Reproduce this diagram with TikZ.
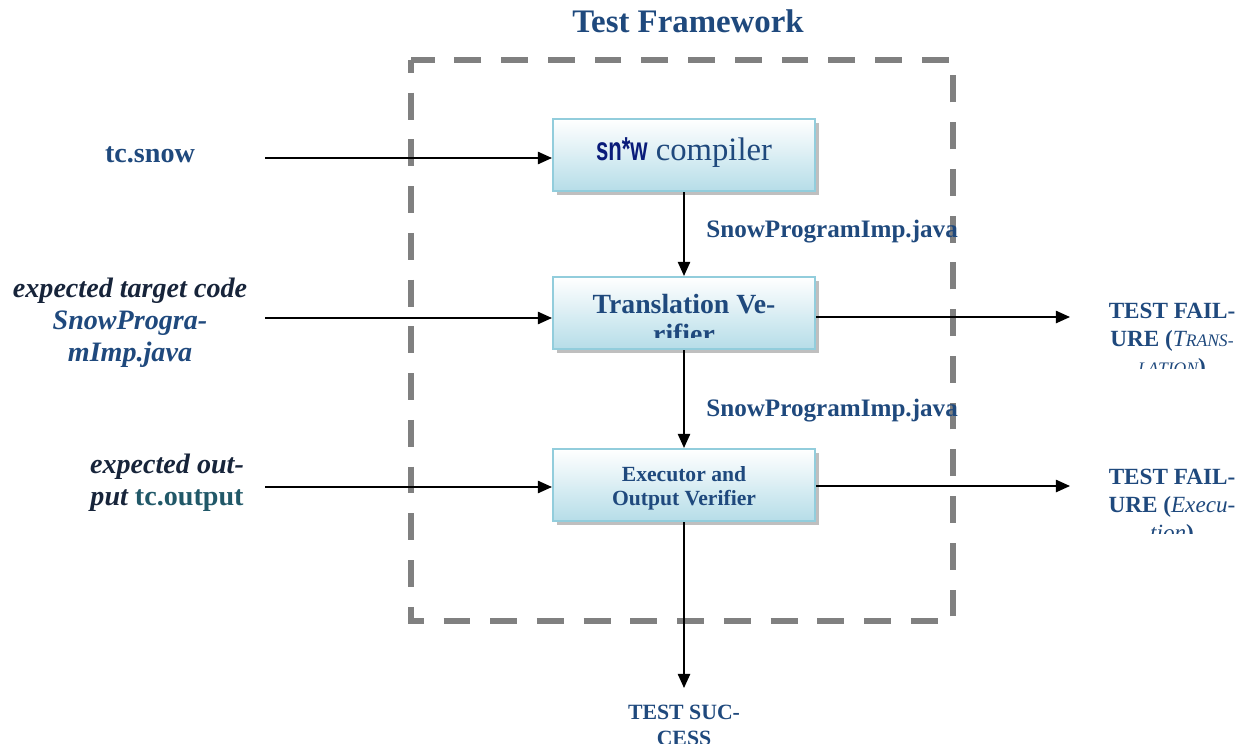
\documentclass[tikz,border=0pt]{standalone}
\usepackage{fontspec}
\setmainfont{Liberation Serif}
\setsansfont{Liberation Sans}
\usepackage{graphicx}
\usetikzlibrary{arrows.meta,shadows}

\definecolor{headblue}{HTML}{1F497D}
\definecolor{darknavy}{HTML}{17243A}
\definecolor{tealtext}{HTML}{215868}
\definecolor{boxedge}{HTML}{92CDDC}
\definecolor{boxfill}{HTML}{B6DDE8}
\definecolor{logoblue}{HTML}{0A1C7A}
\definecolor{framegray}{HTML}{808080}

\tikzset{
  stage/.style={draw=boxedge, line width=1.2pt, top color=white, bottom color=boxfill,
    minimum width=5.24cm, minimum height=1.44cm, inner sep=0pt,
    general shadow={fill=gray!50, shadow xshift=0.08cm, shadow yshift=-0.08cm}},
  flow/.style={line width=0.9pt, -{Triangle[length=8pt,width=7pt]}},
  frame/.style={draw=framegray, line width=2.9pt, dash pattern=on 15.3pt off 11.3pt, dash phase=8pt},
  lbl/.style={inner sep=0pt, text=headblue, font=\bfseries},
}

\begin{document}
\begin{tikzpicture}[x=0.02cm, y=-0.02cm]
\useasboundingbox (0,0) rectangle (1248,744);

% title and the dashed framework border
\node[lbl, font={\fontsize{18.7}{22}\selectfont\bfseries}] (title) at (688,21) {Test Framework};
\draw[frame] (411,60) rectangle (953,621);

% the three processing stages
\node[stage] (comp) at (684,155) {};
\node[stage] (trans) at (684,313) {};
\node[stage] (exec) at (684,485) {};

\node[lbl, anchor=base, font={\fontsize{18.6}{20}\selectfont}] (comptext) at (684,160)
  {{\color{logoblue}\scalebox{0.7}[1.05]{\fontsize{18}{18}\selectfont\sffamily\bfseries sn*w}}~compiler};

\begin{scope}
  \clip (555,279) rectangle (813,337);
  \node[lbl, anchor=north, align=center, font={\fontsize{15.8}{17}\selectfont\bfseries}] (transtext) at (684,294)
    {Translation Ve-\\rifier};
\end{scope}

\node[lbl, align=center, font={\fontsize{12.3}{13.6}\selectfont\bfseries}] (exectext) at (684,488)
  {Executor and\\Output Verifier};

\node[lbl, anchor=west, font={\fontsize{14.3}{16}\selectfont\bfseries}] (javaA) at (706,232) {SnowProgramImp.java};
\node[lbl, anchor=west, font={\fontsize{14.3}{16}\selectfont\bfseries}] (javaB) at (706,411) {SnowProgramImp.java};

% inputs on the left
\node[lbl, font={\fontsize{16}{18}\selectfont\bfseries}] (snow) at (150,155) {tc.snow};
\node[lbl, align=center, font={\fontsize{16}{18.2}\selectfont\bfseries\itshape}] (target) at (130,323)
  {{\color{darknavy}expected target code}\\SnowProgra-\\mImp.java};
\node[lbl, align=center, font={\fontsize{16}{18.2}\selectfont\bfseries}] (expout) at (167,483)
  {{\color{darknavy}\itshape expected out-}\\{\color{darknavy}\itshape put} {\color{tealtext}tc.output}};

\coordinate (snowend) at (265,158);
\coordinate (targetend) at (265,318);
\coordinate (expoutend) at (265,487);

% outputs
\coordinate (failA) at (1070,317);
\coordinate (failB) at (1070,486);
\coordinate (succ) at (684,688);

\begin{scope}
  \clip (1075,290) rectangle (1248,368);
  \node[lbl, anchor=north, align=center, font={\fontsize{13.2}{15.9}\selectfont\bfseries}] (failtrans) at (1172,303)
    {TEST FAIL-\\URE ({\mdseries\itshape T{\fontsize{10}{10}\selectfont RANS-}}\\{\mdseries\itshape\fontsize{10}{10}\selectfont LATION})};
\end{scope}
\begin{scope}
  \clip (1075,460) rectangle (1248,533);
  \node[lbl, anchor=north, align=center, font={\fontsize{13.2}{15.9}\selectfont\bfseries}] (failexec) at (1172,469)
    {TEST FAIL-\\URE ({\mdseries\itshape Execu-}\\{\mdseries\itshape tion})};
\end{scope}
\node[lbl, anchor=north, align=center, font={\fontsize{12.4}{14.7}\selectfont\bfseries}] (success) at (684,705)
  {TEST SUC-\\CESS};

% connectors
\draw[flow] (snowend) -- (comp.west |- snowend);
\draw[flow] (targetend) -- (trans.west |- targetend);
\draw[flow] (expoutend) -- (exec.west |- expoutend);
\draw[flow] (comp) -- (trans);
\draw[flow] (trans) -- (exec);
\draw[flow] (trans.east |- failA) -- (failA);
\draw[flow] (exec.east |- failB) -- (failB);
\draw[flow] (exec) -- (succ);
\end{tikzpicture}
\end{document}
